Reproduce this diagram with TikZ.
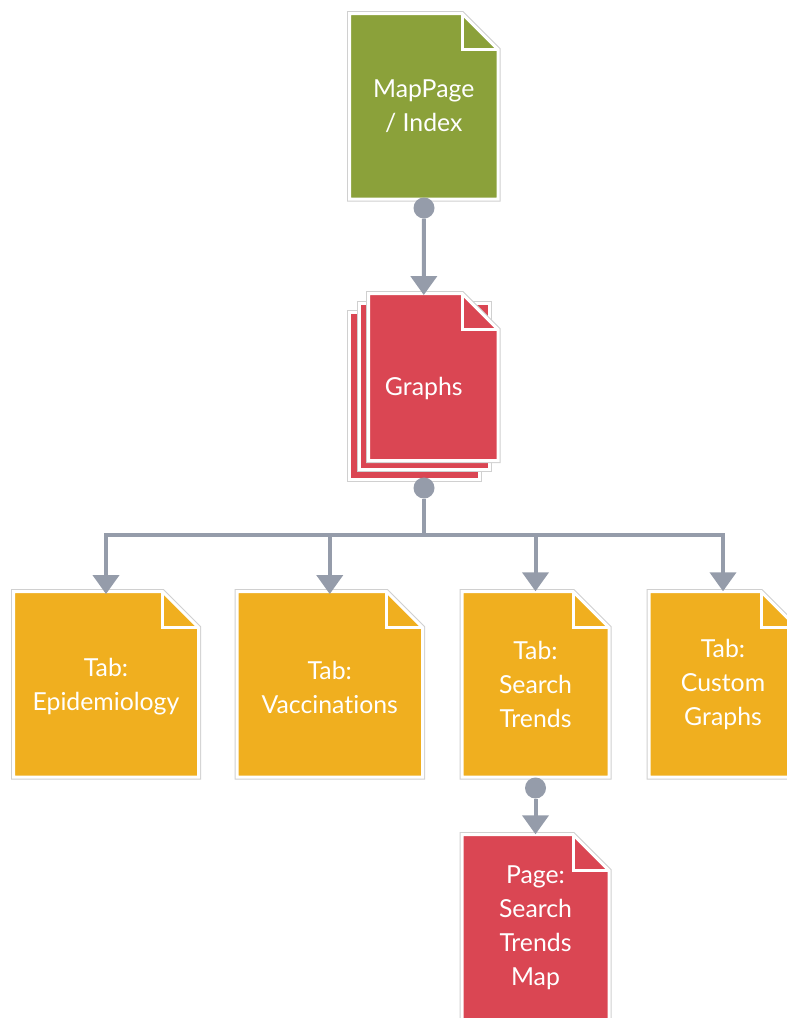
\documentclass[tikz,border=0pt]{standalone}
\usepackage{fontspec}
\setmainfont{Lato}[Ligatures={NoCommon}]
\usetikzlibrary{arrows.meta,calc}
\definecolor{docgreen}{HTML}{8BA13A}
\definecolor{docred}{HTML}{DA4653}
\definecolor{docyellow}{HTML}{F0AF1F}
\definecolor{conngray}{HTML}{959CAA}
\definecolor{edgegray}{HTML}{D0D0D0}

% x1 y1 x2 y2 fold colour
\newcommand\docshape[6]{%
  \pgfmathsetmacro\dfx{#3-#5}%
  \pgfmathsetmacro\dfy{#2+#5}%
  \draw[edgegray, line width=5pt, line join=miter] (#1,#2) -- (\dfx,#2) -- (#3,\dfy) -- (#3,#4) -- (#1,#4) -- cycle;
  \filldraw[fill=#6, draw=white, line width=3pt] (#1,#2) -- (\dfx,#2) -- (#3,\dfy) -- (#3,#4) -- (#1,#4) -- cycle;
  \draw[white, line width=3pt] (\dfx,#2) -- (\dfx,\dfy) -- (#3,\dfy);
}
% x1 y1 x2 y2 colour
\newcommand\sheetshape[5]{%
  \draw[edgegray, line width=5pt] (#1,#2) rectangle (#3,#4);
  \filldraw[fill=#5, draw=white, line width=3pt] (#1,#2) rectangle (#3,#4);
}

\tikzset{
  doctext/.style={text=white, font=\fontsize{24.8}{34}\selectfont, align=center, inner sep=0pt, draw=none},
  conn/.style={conngray, line width=4pt, -{Triangle[width=26pt,length=19pt]}},
  dot/.style={circle, fill=conngray, minimum size=21pt, inner sep=0pt, draw=none}
}

\begin{document}
\begin{tikzpicture}[x=1pt, y=-1pt]
\useasboundingbox (0,0) rectangle (787,1018);
\clip (0,0) rectangle (787,1018);

% MapPage
\docshape{349.5}{13.5}{498}{199}{36}{docgreen}
\node[doctext, minimum width=148.5pt, minimum height=185.5pt] (map) at (423.75,106.25) {MapPage\\/ Index};

% Graphs (stack)
\sheetshape{349.5}{312.5}{479.5}{479}{docred}
\sheetshape{359}{303}{489}{469.5}{docred}
\docshape{368.5}{293.5}{498}{460.5}{36}{docred}
\node[doctext, minimum width=148.5pt, minimum height=185.5pt] (graphs) at (423.75,388) {Graphs};

% Tabs
\docshape{13.5}{591.5}{198.5}{777}{36}{docyellow}
\node[doctext, minimum width=185pt, minimum height=185.5pt] (epi) at (106,687) {Tab:\\Epidemiology};

\docshape{237}{591.5}{422.5}{777}{36}{docyellow}
\node[doctext, minimum width=185.5pt, minimum height=185.5pt] (vac) at (329.75,687) {Tab:\\Vaccinations};

\docshape{462}{591.5}{609}{777}{36}{docyellow}
\node[doctext, minimum width=147pt, minimum height=185.5pt] (search) at (535.5,684.25) {Tab:\\Search\\Trends};

\docshape{649}{591.5}{797}{777}{36}{docyellow}
\node[doctext, minimum width=148pt, minimum height=185.5pt] (custom) at (723,684.25) {Tab:\\Custom\\Graphs};

% Page
\docshape{462}{834.5}{609}{1020}{36}{docred}
\node[doctext, minimum width=147pt, minimum height=185.5pt] (page) at (535.5,927.25) {Page:\\Search\\Trends\\Map};

% dots
\node[dot] (mdot) at (424,208) {};
\node[dot] (gdot) at (424,488) {};
\node[dot] (sdot) at (535.5,788) {};
\coordinate (bus) at (424,535);

% connectors
\draw[conn] (mdot) -- (graphs.north);
\draw[conn] (gdot) -- (bus) -| (epi.north);
\draw[conn] (gdot) -- (bus) -| (vac.north);
\draw[conn] (gdot) -- (bus) -| (search.north);
\draw[conn] (gdot) -- (bus) -| (custom.north);
\draw[conn] (sdot) -- (page.north);
\end{tikzpicture}
\end{document}
